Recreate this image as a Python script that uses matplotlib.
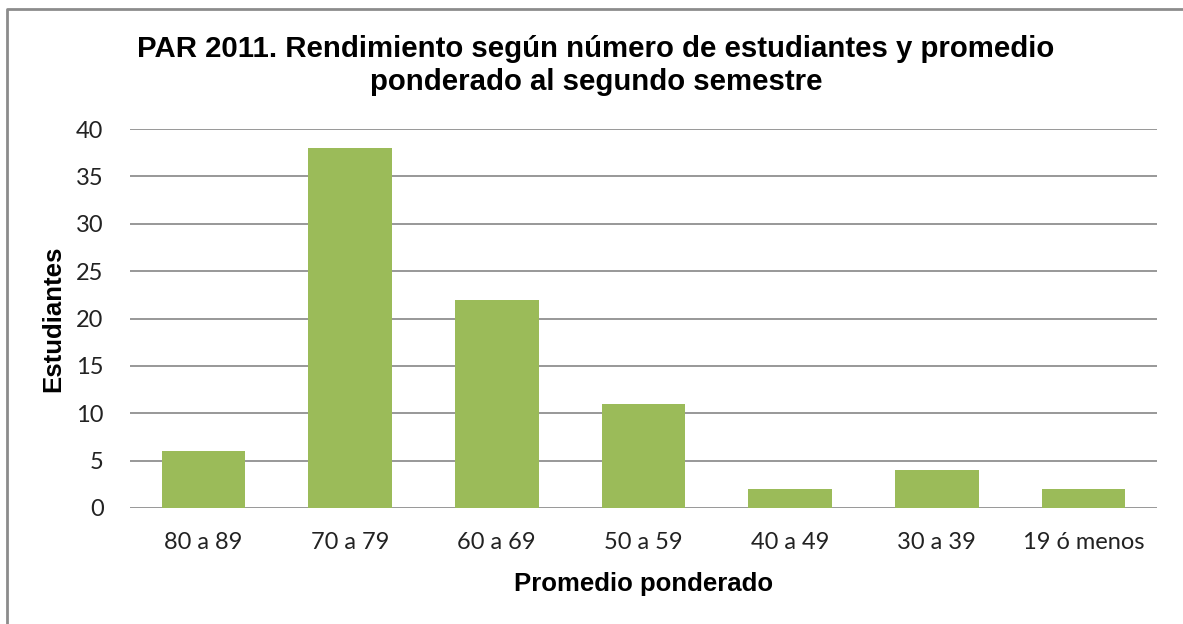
import matplotlib.pyplot as plt
from matplotlib.lines import Line2D

# Data
categorias = ['80 a 89', '70 a 79', '60 a 69', '50 a 59', '40 a 49', '30 a 39', '19 ó menos']
estudiantes = [6, 38, 22, 11, 2, 4, 2]

verde = '#9bbb59'
gris = '#868686'

fig = plt.figure(figsize=(11.83, 6.24), dpi=100)
ax = fig.add_axes([130 / 1183, 1 - 508 / 624, (1157 - 130) / 1183, (508 - 129) / 624])

x = range(len(categorias))
ax.bar(x, estudiantes, width=0.57, color=verde, zorder=3)

ax.set_xlim(-0.5, len(categorias) - 0.5)
ax.set_ylim(0, 40)
ax.set_yticks(range(0, 41, 5))
ax.grid(axis='y', color=gris, linewidth=1.2, zorder=0)
ax.set_xticks(list(x))
ax.set_xticklabels(categorias)
for s in ax.spines.values():
    s.set_visible(False)
ax.tick_params(length=0, labelsize=17, colors='#222222')
ax.tick_params(axis='x', pad=17)
ax.tick_params(axis='y', pad=19)
for lbl in ax.get_xticklabels() + ax.get_yticklabels():
    lbl.set_family('Lato')

ax.set_xlabel('Promedio ponderado', fontsize=18.5, fontweight='bold',
              family='Liberation Sans', labelpad=14)
ax.set_ylabel('Estudiantes', fontsize=18.5, fontweight='bold',
              family='Liberation Sans', labelpad=8)

fig.text(596 / 1183, 1 - 65.5 / 624,
         'PAR 2011. Rendimiento según número de estudiantes y promedio\nponderado al segundo semestre',
         ha='center', va='center', fontsize=21.2, fontweight='bold',
         family='Liberation Sans', linespacing=1.2)

# chart frame (left and top edges visible)
fx, fy = 6.5 / 1183, 1 - 8.5 / 624
fig.lines.append(Line2D([fx, fx, 1.0], [0.0, fy, fy], transform=fig.transFigure,
                        color='#8c8c8c', linewidth=2))

fig.savefig('out.png', dpi=100)
